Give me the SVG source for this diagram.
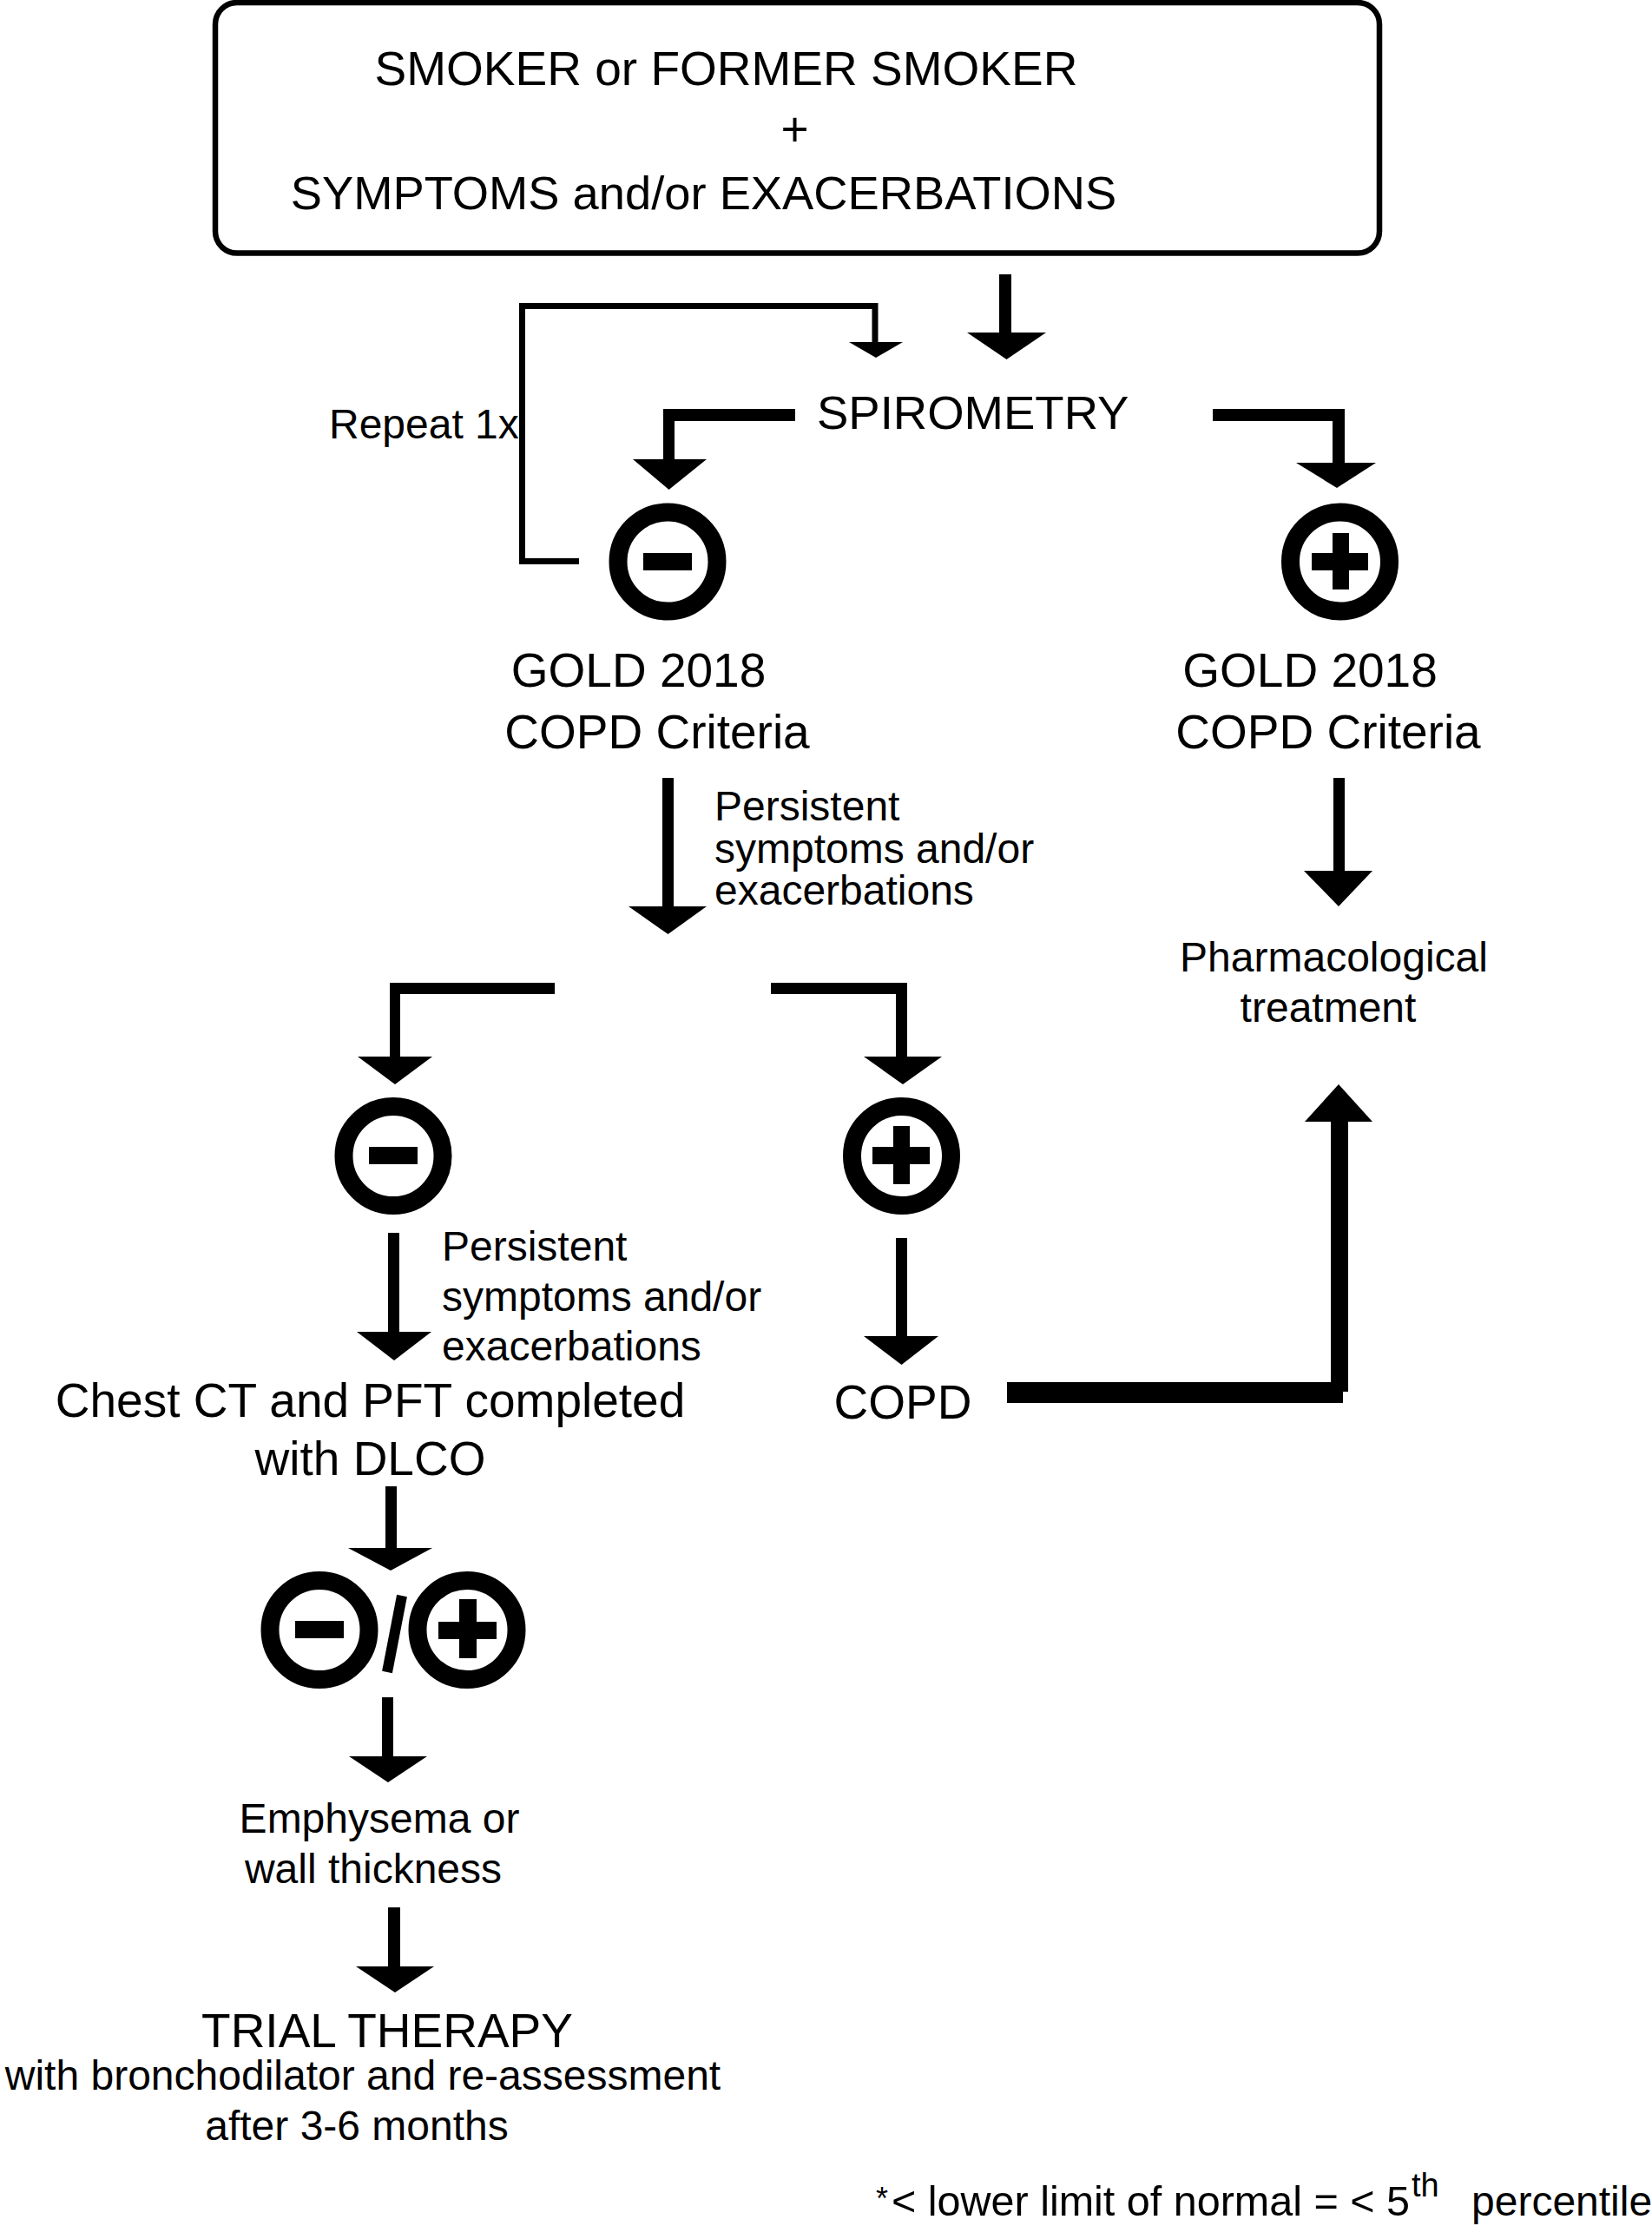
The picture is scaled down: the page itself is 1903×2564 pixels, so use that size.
<svg xmlns="http://www.w3.org/2000/svg" width="1903" height="2564" viewBox="0 0 1903 2564">
<style>
text{font-family:"Liberation Sans",Arial,Helvetica,sans-serif;fill:#000}
.big{font-size:55px}
.med{font-size:48px}
.mid{text-anchor:middle}
.ring{fill:none;stroke:#000;stroke-width:21}
.bar{fill:#000}
.thin{fill:none;stroke:#000;stroke-width:7}
</style>
<rect width="1903" height="2564" fill="#fff"/>
<g id="connectors" fill="#000">
  <!-- box to spirometry -->
  <rect x="1151" y="316" width="14" height="68"/>
  <polygon points="1114,383 1205,383 1159.5,414"/>
  <!-- repeat loop -->
  <path class="thin" d="M667,646.5 H601.5 V352.5 H1008 V395"/>
  <polygon points="978,394 1040,394 1009,412"/>
  <!-- spirometry negative -->
  <rect x="764" y="471" width="152" height="14"/>
  <rect x="764" y="471" width="13" height="59"/>
  <polygon points="729,529 814,529 770.5,564"/>
  <!-- spirometry positive -->
  <rect x="1397" y="471" width="152" height="14"/>
  <rect x="1535" y="471" width="14" height="63"/>
  <polygon points="1493,533 1585,533 1540,562"/>
  <!-- left criteria down -->
  <rect x="763" y="896" width="13" height="149"/>
  <polygon points="724,1044 814,1044 769.5,1076"/>
  <!-- right criteria down -->
  <rect x="1536" y="896" width="13" height="108"/>
  <polygon points="1502,1003 1581,1003 1542,1044"/>
  <!-- split left -->
  <rect x="449" y="1132" width="190" height="13"/>
  <rect x="449" y="1132" width="12" height="86"/>
  <polygon points="412,1217 498,1217 455,1249"/>
  <!-- split right -->
  <rect x="888" y="1132" width="157" height="13"/>
  <rect x="1032" y="1132" width="13" height="86"/>
  <polygon points="995,1217 1085,1217 1040,1249"/>
  <!-- minus2 down -->
  <rect x="447" y="1420" width="13" height="115"/>
  <polygon points="411,1534 497,1534 454,1567"/>
  <!-- plus2 down -->
  <rect x="1032" y="1426" width="13" height="114"/>
  <polygon points="995,1539 1081,1539 1038.5,1572"/>
  <!-- COPD to pharmacological -->
  <rect x="1160" y="1592" width="387" height="24"/>
  <rect x="1533" y="1291" width="20" height="312"/>
  <polygon points="1503,1292 1581,1292 1542,1249"/>
  <!-- DLCO down -->
  <rect x="444" y="1712" width="13" height="72"/>
  <polygon points="401,1783 498,1783 450,1809"/>
  <!-- pair down -->
  <rect x="440" y="1955" width="13" height="69"/>
  <polygon points="402,2023 492,2023 447,2053"/>
  <!-- wall thickness down -->
  <rect x="447" y="2197" width="14" height="69"/>
  <polygon points="410,2265 500,2265 455,2295"/>
</g>
<g id="node-start">
  <rect x="248" y="3" width="1341" height="288.5" rx="25" ry="25" fill="none" stroke="#000" stroke-width="6.5"/>
  <text class="big mid" x="836.5" y="98">SMOKER or FORMER SMOKER</text>
  <text class="big mid" x="915.5" y="168">+</text>
  <text class="mid" style="font-size:54.3px" x="810.5" y="241">SYMPTOMS and/or EXACERBATIONS</text>
</g>
<g id="node-spirometry">
  <text style="font-size:54.5px" x="941" y="494">SPIROMETRY</text>
</g>
<g id="label-repeat">
  <text class="med" x="379" y="505">Repeat 1x</text>
</g>
<g id="node-spiro-negative">
  <circle class="ring" cx="769" cy="647" r="57"/>
  <rect class="bar" x="741" y="637" width="56" height="20"/>
</g>
<g id="node-spiro-positive">
  <circle class="ring" cx="1543.5" cy="647" r="57"/>
  <rect class="bar" x="1511" y="637" width="65" height="20"/>
  <rect class="bar" x="1535" y="614" width="19" height="65"/>
</g>
<g id="node-gold-left">
  <text class="big mid" x="735.5" y="791">GOLD 2018</text>
  <text class="big mid" x="757" y="862">COPD Criteria</text>
</g>
<g id="node-gold-right">
  <text class="big mid" x="1509" y="791">GOLD 2018</text>
  <text class="big mid" x="1530" y="862">COPD Criteria</text>
</g>
<g id="label-persistent-1">
  <text class="med" x="823" y="945">Persistent</text>
  <text class="med" x="823" y="994">symptoms and/or</text>
  <text class="med" x="823" y="1042">exacerbations</text>
</g>
<g id="node-pharmacological">
  <text class="med mid" x="1536.5" y="1119">Pharmacological</text>
  <text class="med mid" x="1530" y="1177">treatment</text>
</g>
<g id="node-negative-2">
  <circle class="ring" cx="453" cy="1331.5" r="57"/>
  <rect class="bar" x="425" y="1321" width="56" height="20"/>
</g>
<g id="node-positive-2">
  <circle class="ring" cx="1038.5" cy="1331.5" r="57"/>
  <rect class="bar" x="1005" y="1321" width="66" height="20"/>
  <rect class="bar" x="1029" y="1297" width="19" height="67"/>
</g>
<g id="label-persistent-2">
  <text class="med" x="509" y="1452">Persistent</text>
  <text class="med" x="509" y="1510">symptoms and/or</text>
  <text class="med" x="509" y="1567">exacerbations</text>
</g>
<g id="node-chest-ct">
  <text class="big mid" x="426.5" y="1632">Chest CT and PFT completed</text>
  <text class="big mid" x="426.5" y="1699">with DLCO</text>
</g>
<g id="node-copd">
  <text class="big mid" x="1040" y="1634">COPD</text>
</g>
<g id="node-neg-pos">
  <circle class="ring" cx="368" cy="1877.5" r="57"/>
  <rect class="bar" x="340" y="1867" width="56" height="20"/>
  <line x1="463" y1="1838" x2="446" y2="1926" stroke="#000" stroke-width="12"/>
  <circle class="ring" cx="538" cy="1877.5" r="57"/>
  <rect class="bar" x="505" y="1868" width="67" height="20"/>
  <rect class="bar" x="529" y="1842" width="20" height="68"/>
</g>
<g id="node-emphysema">
  <text class="med mid" x="437" y="2111">Emphysema or</text>
  <text class="med mid" x="430" y="2169">wall thickness</text>
</g>
<g id="node-trial">
  <text class="big mid" x="446" y="2358">TRIAL THERAPY</text>
  <text class="med mid" x="418" y="2407">with bronchodilator and re-assessment</text>
  <text class="med mid" x="411" y="2465">after 3-6 months</text>
</g>
<g id="footnote">
  <text style="font-size:36px" x="1009" y="2545">*</text>
  <text class="med" x="1027" y="2552" textLength="597" lengthAdjust="spacingAndGlyphs">&lt; lower limit of normal = &lt; 5</text>
  <text style="font-size:38px" x="1626" y="2530">th</text>
  <text class="med" x="1695" y="2552">percentile</text>
</g>
</svg>
